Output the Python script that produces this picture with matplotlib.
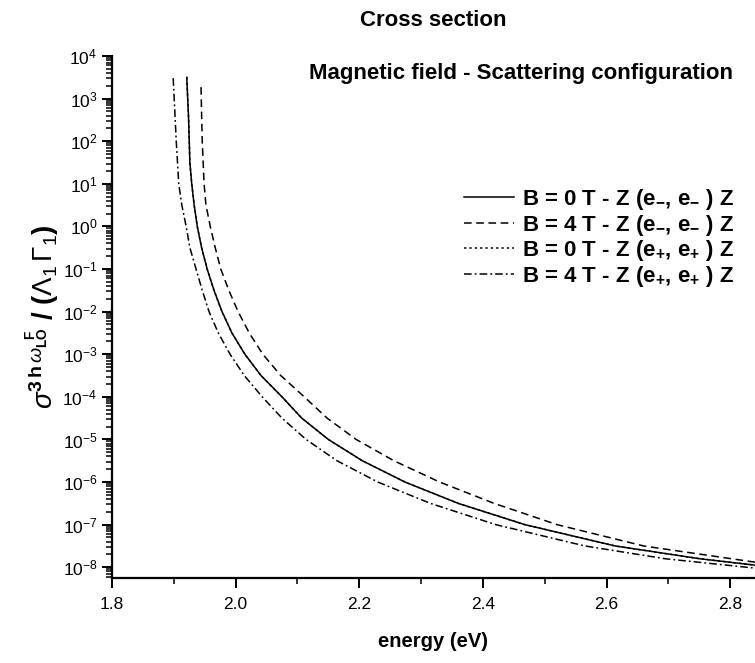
import matplotlib
matplotlib.use("Agg")
import matplotlib.pyplot as plt
from matplotlib.ticker import MultipleLocator, LogLocator, NullFormatter
import numpy as np

plt.rcParams.update({
    "font.family": ["Liberation Sans", "DejaVu Sans"],
    "mathtext.fontset": "custom",
    "mathtext.rm": "Liberation Sans",
    "mathtext.it": "Liberation Sans:italic",
    "mathtext.bf": "Liberation Sans:bold",
})

# log10 levels where the curves were read, and the energies (eV) they pass at
logsig_b0_em = [3.5, 2.5, 1.5, 1.0, 0.5, 0.0, -0.5, -1.0, -1.5, -2.0, -2.5, -3.0,
                -3.5, -4.0, -4.5, -5.0, -5.5, -6.0, -6.5, -7.0, -7.5, -7.8, -7.95]
energy_b0_em = [1.921, 1.924, 1.926, 1.929, 1.933, 1.938, 1.945, 1.954, 1.965, 1.978,
                1.994, 2.015, 2.041, 2.075, 2.107, 2.150, 2.205, 2.274, 2.360, 2.468,
                2.614, 2.751, 2.840]

logsig_b4_em = [3.27, 2.0, 1.0, 0.5, 0.0, -0.5, -1.0, -1.5, -2.0, -2.5, -3.0, -3.5,
                -4.0, -4.5, -5.0, -5.5, -6.0, -6.5, -7.0, -7.5, -7.88]
energy_b4_em = [1.944, 1.946, 1.949, 1.952, 1.959, 1.967, 1.976, 1.989, 2.004, 2.022,
                2.044, 2.073, 2.111, 2.148, 2.195, 2.256, 2.330, 2.418, 2.520, 2.660,
                2.840]

# B = 0 T, e+ lies on top of the e- curve
logsig_b0_ep = [3.5, 2.5, 1.5, 1.0, 0.5, 0.0, -0.5, -1.0, -1.5, -2.0, -2.5, -3.0,
                -3.5, -4.0, -4.5, -5.0, -5.5, -6.0, -6.5, -7.0, -7.5, -7.8, -7.95]
energy_b0_ep = [1.921, 1.924, 1.926, 1.929, 1.933, 1.938, 1.945, 1.954, 1.965, 1.978,
                1.994, 2.015, 2.041, 2.075, 2.107, 2.150, 2.205, 2.274, 2.360, 2.468,
                2.614, 2.751, 2.840]

logsig_b4_ep = [3.48, 2.0, 1.0, 0.5, 0.0, -0.5, -1.0, -1.5, -2.0, -2.5, -3.0, -3.5,
                -4.0, -4.5, -5.0, -5.5, -6.0, -6.5, -7.0, -7.5, -7.8, -8.02]
energy_b4_ep = [1.899, 1.904, 1.908, 1.913, 1.920, 1.926, 1.936, 1.946, 1.957, 1.972,
                1.991, 2.014, 2.043, 2.075, 2.114, 2.164, 2.230, 2.315, 2.421, 2.565,
                2.695, 2.840]

labels = [
    r"B = 0 T - Z (e$_{\mathbf{-}}$, e$_{\mathbf{-}}$ ) Z",
    r"B = 4 T - Z (e$_{\mathbf{-}}$, e$_{\mathbf{-}}$ ) Z",
    r"B = 0 T - Z (e$_{\mathbf{+}}$, e$_{\mathbf{+}}$ ) Z",
    r"B = 4 T - Z (e$_{\mathbf{+}}$, e$_{\mathbf{+}}$ ) Z",
]

fig = plt.figure(figsize=(7.55, 6.63), dpi=100)
ax = fig.add_axes([0.1483, 0.1282, 0.8517, 0.7873])

lw = 1.1
l2, = ax.plot(energy_b0_ep, 10 ** np.array(logsig_b0_ep), color="black", lw=lw,
              linestyle=(0, (1.5, 2)))
l1, = ax.plot(energy_b0_em, 10 ** np.array(logsig_b0_em), color="black", lw=lw)
l3, = ax.plot(energy_b4_em, 10 ** np.array(logsig_b4_em), color="black", lw=lw,
              linestyle=(0, (5, 3)))
l4, = ax.plot(energy_b4_ep, 10 ** np.array(logsig_b4_ep), color="black", lw=lw,
              linestyle=(0, (5, 2, 1.2, 2)))

ax.set_yscale("log")
ax.set_xlim(1.8, 2.84)
ax.set_ylim(5.6e-9, 1e4)

ax.xaxis.set_major_locator(MultipleLocator(0.2))
ax.xaxis.set_minor_locator(MultipleLocator(0.1))
ax.xaxis.set_major_formatter(plt.FormatStrFormatter("%.1f"))
ax.yaxis.set_major_locator(LogLocator(base=10, numticks=20))
ax.yaxis.set_minor_locator(LogLocator(base=10, subs=np.arange(2, 10), numticks=200))
ax.yaxis.set_minor_formatter(NullFormatter())

for s in ["top", "right"]:
    ax.spines[s].set_visible(False)
for s in ["left", "bottom"]:
    ax.spines[s].set_linewidth(1.6)
ax.tick_params(which="major", direction="out", length=7, width=1.4, labelsize=12.5)
ax.tick_params(axis="x", which="major", pad=7)
ax.tick_params(which="minor", direction="out", length=4, width=1.1)

ax.set_xlabel("energy (eV)", fontsize=14.5, fontweight="bold", labelpad=14)
ax.set_ylabel(r"$\sigma^{\mathbf{3\,h}\,\omega_{\mathbf{LO}}^{\ \ \mathbf{F}}}$ / ($\Lambda_{1}\,\Gamma_{1}$)",
              fontsize=20, fontweight="bold", labelpad=0)
fig.suptitle("Cross section", fontsize=16, fontweight="bold", x=0.574, y=0.985)

ax.text(0.636, 0.967, "Magnetic field - Scattering configuration", transform=ax.transAxes,
        ha="center", va="center", fontsize=16, fontweight="bold")

ax.legend([l1, l3, l2, l4], labels, loc="upper left", bbox_to_anchor=(0.53, 0.77),
          frameon=False, handlelength=2.25, handletextpad=0.36, labelspacing=0.02,
          borderpad=0, prop={"weight": "bold", "size": 16})

fig.savefig("out.png", dpi=100)
